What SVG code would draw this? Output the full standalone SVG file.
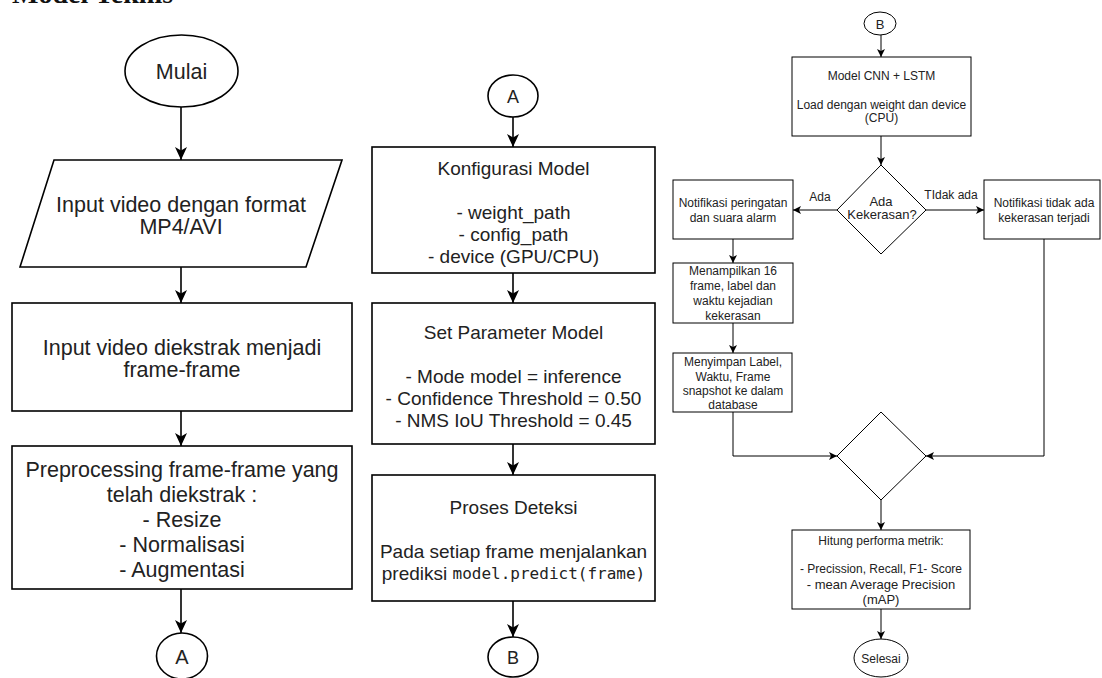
<svg xmlns="http://www.w3.org/2000/svg" width="1102" height="678" viewBox="0 0 1102 678">
<style>
  .t { font-family: "Liberation Sans", Arial, sans-serif; fill: #222; text-anchor: middle; dominant-baseline: central; }
  .c1 { font-size: 21.5px; }
  .c2 { font-size: 19px; }
  .c3 { font-size: 12px; }
  .mono { font-family: "DejaVu Sans Mono", "Liberation Mono", monospace; font-size: 16px; }
  .shape { fill: #fff; stroke: #000; stroke-width: 1.6; }
  .shape3 { fill: #fff; stroke: #000; stroke-width: 1; }
  .line { fill: none; stroke: #000; stroke-width: 1.6; }
  .line3 { fill: none; stroke: #000; stroke-width: 1; }
  .title { font-family: "Liberation Serif", "Times New Roman", serif; font-weight: bold; font-size: 28px; fill: #111; }
</style>
<defs>
  <marker id="ah" markerUnits="userSpaceOnUse" markerWidth="14" markerHeight="14" refX="13" refY="7" orient="auto">
    <path d="M0,1 L13,7 L0,13 L3.5,7 z" fill="#000"/>
  </marker>
  <marker id="ahs" markerUnits="userSpaceOnUse" markerWidth="10" markerHeight="10" refX="8" refY="4.5" orient="auto">
    <path d="M0,0.5 L8,4.5 L0,8.5 L2,4.5 z" fill="#000"/>
  </marker>
</defs>
<rect x="0" y="0" width="1102" height="678" fill="#fff"/>
<text class="title" x="12" y="3">Model Teknis</text>

<g id="connectors">
  <line class="line" x1="181" y1="107" x2="181" y2="160" marker-end="url(#ah)"/>
  <line class="line" x1="181" y1="267" x2="181" y2="303" marker-end="url(#ah)"/>
  <line class="line" x1="181" y1="411" x2="181" y2="446" marker-end="url(#ah)"/>
  <line class="line" x1="181" y1="589" x2="181" y2="633" marker-end="url(#ah)"/>

  <line class="line" x1="513" y1="117" x2="513" y2="147" marker-end="url(#ah)"/>
  <line class="line" x1="513" y1="273" x2="513" y2="303" marker-end="url(#ah)"/>
  <line class="line" x1="513" y1="444" x2="513" y2="475" marker-end="url(#ah)"/>
  <line class="line" x1="513" y1="601" x2="513" y2="637" marker-end="url(#ah)"/>

  <line class="line3" x1="881" y1="35" x2="881" y2="57" marker-end="url(#ahs)"/>
  <line class="line3" x1="881" y1="136" x2="881" y2="165" marker-end="url(#ahs)"/>
  <line class="line3" x1="837" y1="210" x2="793" y2="210" marker-end="url(#ahs)"/>
  <line class="line3" x1="926" y1="210" x2="984" y2="210" marker-end="url(#ahs)"/>
  <line class="line3" x1="733" y1="239" x2="733" y2="263" marker-end="url(#ahs)"/>
  <line class="line3" x1="733" y1="323" x2="733" y2="353" marker-end="url(#ahs)"/>
  <polyline class="line3" points="733,412 733,456 837,456" marker-end="url(#ahs)"/>
  <polyline class="line3" points="1044,239 1044,456 926,456" marker-end="url(#ahs)"/>
  <line class="line3" x1="881" y1="500" x2="881" y2="530" marker-end="url(#ahs)"/>
  <line class="line3" x1="881" y1="609" x2="881" y2="639" marker-end="url(#ahs)"/>
  <text class="t c3" x="820" y="197">Ada</text>
  <text class="t c3" x="951" y="195">TIdak ada</text>
</g>

<g id="mulai">
  <ellipse class="shape" cx="181.5" cy="71" rx="56.5" ry="36"/>
  <text class="t c1" x="181.5" y="72">Mulai</text>
</g>
<g id="input-video">
  <polygon class="shape" points="54,160 342,160 306,267 20,267"/>
  <text class="t c1" x="181" y="205">Input video dengan format</text>
  <text class="t c1" x="181" y="227">MP4/AVI</text>
</g>
<g id="ekstrak">
  <rect class="shape" x="12" y="303" width="340" height="108"/>
  <text class="t c1" x="182" y="348">Input video diekstrak menjadi</text>
  <text class="t c1" x="182" y="370">frame-frame</text>
</g>
<g id="preprocessing">
  <rect class="shape" x="12" y="446" width="340" height="143"/>
  <text class="t c1" x="182" y="470">Preprocessing frame-frame yang</text>
  <text class="t c1" x="182" y="495">telah diekstrak :</text>
  <text class="t c1" x="182" y="520">- Resize</text>
  <text class="t c1" x="182" y="545">- Normalisasi</text>
  <text class="t c1" x="182" y="570">- Augmentasi</text>
</g>
<g id="connector-a-out">
  <ellipse class="shape" cx="182" cy="656" rx="25.5" ry="23"/>
  <text class="t" style="font-size:20px" x="182" y="657">A</text>
</g>

<g id="connector-a-in">
  <ellipse class="shape" cx="513" cy="96" rx="25" ry="21"/>
  <text class="t" style="font-size:18px" x="513" y="97">A</text>
</g>
<g id="konfigurasi">
  <rect class="shape" x="372" y="147" width="283" height="126"/>
  <text class="t c2" x="513.5" y="168">Konfigurasi Model</text>
  <text class="t c2" x="513.5" y="212">- weight_path</text>
  <text class="t c2" x="513.5" y="234">- config_path</text>
  <text class="t c2" x="513.5" y="256">- device (GPU/CPU)</text>
</g>
<g id="set-parameter">
  <rect class="shape" x="372" y="303" width="283" height="141"/>
  <text class="t c2" x="513.5" y="332">Set Parameter Model</text>
  <text class="t c2" x="513.5" y="376">- Mode model = inference</text>
  <text class="t c2" x="513.5" y="398">- Confidence Threshold = 0.50</text>
  <text class="t c2" x="513.5" y="420">- NMS IoU Threshold = 0.45</text>
</g>
<g id="proses-deteksi">
  <rect class="shape" x="372" y="475" width="283" height="126"/>
  <text class="t c2" x="513.5" y="507">Proses Deteksi</text>
  <text class="t c2" x="513.5" y="551">Pada setiap frame menjalankan</text>
  <text class="t c2" x="513.5" y="573">prediksi <tspan class="mono">model.predict(frame)</tspan></text>
</g>
<g id="connector-b-out">
  <ellipse class="shape" cx="513" cy="657" rx="25" ry="20"/>
  <text class="t" style="font-size:18px" x="513" y="658">B</text>
</g>

<g id="connector-b-in">
  <ellipse class="shape3" cx="880" cy="23.5" rx="16" ry="11.5"/>
  <text class="t" style="font-size:13px" x="880" y="24">B</text>
</g>
<g id="model-cnn">
  <rect class="shape3" x="792" y="57" width="179" height="79"/>
  <text class="t c3" x="881.5" y="76">Model CNN + LSTM</text>
  <text class="t c3" x="881.5" y="104.5">Load dengan weight dan device</text>
  <text class="t c3" x="881.5" y="118">(CPU)</text>
</g>
<g id="decision">
  <polygon class="shape3" points="881,165 926,210 881,254 837,210"/>
  <text class="t" style="font-size:13px" x="881" y="201.5">Ada</text>
  <text class="t" style="font-size:13px" x="882" y="214">Kekerasan?</text>
</g>
<g id="notif-ada">
  <rect class="shape3" x="673" y="180" width="120" height="59"/>
  <text class="t c3" x="733" y="203">Notifikasi peringatan</text>
  <text class="t c3" x="733" y="218">dan suara alarm</text>
</g>
<g id="notif-tidak">
  <rect class="shape3" x="984" y="180" width="116" height="59"/>
  <text class="t c3" x="1044" y="203">Notifikasi tidak ada</text>
  <text class="t c3" x="1044" y="218">kekerasan terjadi</text>
</g>
<g id="menampilkan">
  <rect class="shape3" x="673" y="263" width="120" height="60"/>
  <text class="t c3" x="733" y="271">Menampilkan 16</text>
  <text class="t c3" x="733" y="286">frame, label dan</text>
  <text class="t c3" x="733" y="301">waktu kejadian</text>
  <text class="t c3" x="733" y="316">kekerasan</text>
</g>
<g id="menyimpan">
  <rect class="shape3" x="673" y="353" width="119" height="59"/>
  <text class="t c3" x="733" y="362">Menyimpan Label,</text>
  <text class="t c3" x="733" y="376.5">Waktu, Frame</text>
  <text class="t c3" x="733" y="391">snapshot ke dalam</text>
  <text class="t c3" x="733" y="404.5">database</text>
</g>
<g id="merge">
  <polygon class="shape3" points="881,412 926,456 881,500 837,456"/>
</g>
<g id="hitung">
  <rect class="shape3" x="792" y="530" width="178" height="79"/>
  <text class="t c3" x="881" y="541">Hitung performa metrik:</text>
  <text class="t c3" x="881" y="569">- Precission, Recall, F1- Score</text>
  <text class="t" style="font-size:13px" x="881" y="584">- mean Average Precision</text>
  <text class="t" style="font-size:13px" x="881" y="599">(mAP)</text>
</g>
<g id="selesai">
  <ellipse class="shape3" cx="881" cy="658" rx="27" ry="19"/>
  <text class="t c3" x="881" y="659">Selesai</text>
</g>
</svg>
